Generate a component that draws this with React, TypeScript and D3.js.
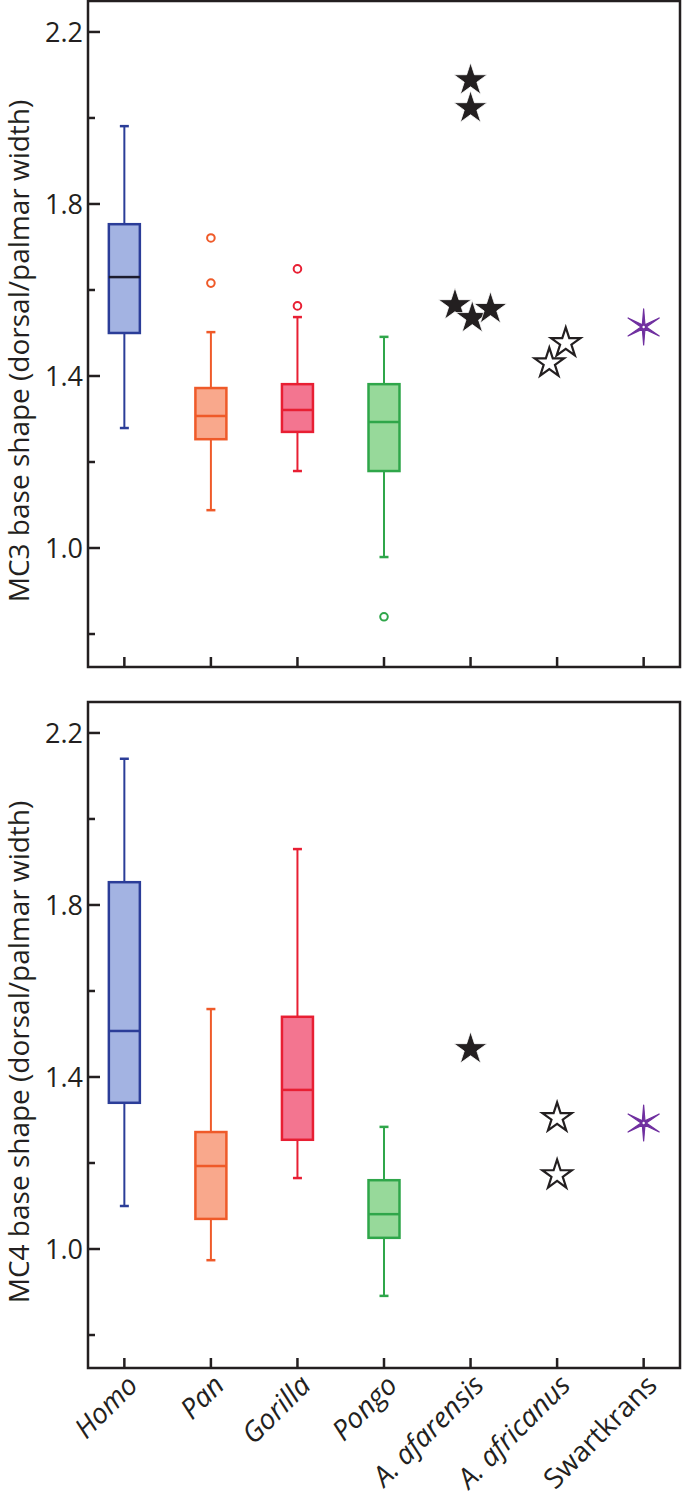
import React, { useRef, useEffect } from 'react';
import * as d3 from 'd3';

const categories = ['Homo', 'Pan', 'Gorilla', 'Pongo', 'A. afarensis', 'A. africanus', 'Swartkrans'];
const italicLabels = ['Homo', 'Pan', 'Gorilla', 'Pongo', 'A. afarensis', 'A. africanus'];
const boxGroups = ['Homo', 'Pan', 'Gorilla', 'Pongo'];
const strokeColors = ['#2b3d98', '#ef5a29', '#e81f33', '#2fa64a'];
const fillColors = ['#a3b3e2', '#f9a88c', '#f37590', '#97d99a'];
const majorTicks = [1.0, 1.4, 1.8, 2.2];
const minorTicks = [0.8, 1.2, 1.6, 2.0];

// [lower whisker, q1, median, q3, upper whisker]
const mc3Boxes = [
  [1.279, 1.5, 1.63, 1.753, 1.981],
  [1.088, 1.253, 1.307, 1.372, 1.502],
  [1.179, 1.27, 1.321, 1.381, 1.537],
  [0.979, 1.179, 1.293, 1.381, 1.491],
];
const mc3Outliers = [[], [1.721, 1.616], [1.649, 1.563], [0.84]];
const mc3Afarensis = [2.088, 2.023, 1.565, 1.535, 1.556];
const mc3AfarensisJitter = [0, 0, -0.18, 0.02, 0.23];
const mc3Africanus = [1.477, 1.43];
const mc3AfricanusJitter = [0.1, -0.09];
const mc3Swartkrans = [1.514];

const mc4Boxes = [
  [1.1, 1.34, 1.507, 1.853, 2.14],
  [0.974, 1.07, 1.193, 1.272, 1.558],
  [1.165, 1.254, 1.37, 1.54, 1.93],
  [0.891, 1.026, 1.081, 1.16, 1.284],
];
const mc4Outliers = [[], [], [], []];
const mc4Afarensis = [1.465];
const mc4AfarensisJitter = [0];
const mc4Africanus = [1.305, 1.172];
const mc4AfricanusJitter = [0, 0];
const mc4Swartkrans = [1.293];

const panels = [
  { title: 'MC3 base shape (dorsal/palmar width)', boxes: mc3Boxes, outliers: mc3Outliers, afar: mc3Afarensis, afarJ: mc3AfarensisJitter, afri: mc3Africanus, afriJ: mc3AfricanusJitter, swk: mc3Swartkrans, medianDark: true },
  { title: 'MC4 base shape (dorsal/palmar width)', boxes: mc4Boxes, outliers: mc4Outliers, afar: mc4Afarensis, afarJ: mc4AfarensisJitter, afri: mc4Africanus, afriJ: mc4AfricanusJitter, swk: mc4Swartkrans, medianDark: false },
];

const FONT = '"Open Sans", "Noto Sans", sans-serif';
const INK = '#231f20';

export default function App() {
  const ref = useRef<SVGSVGElement>(null);

  useEffect(() => {
    const svg = d3.select(ref.current);
    svg.selectAll('*').remove();

    const left = 88;
    const right = 680;
    const panelTops = [1, 702];
    const panelH = 666;

    const x = d3.scalePoint<string>().domain(categories).range([left, right]).padding(0.42);
    const step = x.step();

    const starPath = d3.symbol().type(d3.symbolStar).size(340)();
    const openStarPath = d3.symbol().type(d3.symbolStar).size(270)();
    const asterisk = d3.line().curve(d3.curveLinearClosed)(
      d3.range(12).map((i) => {
        const a = (i * Math.PI) / 6;
        const r = i % 2 === 0 ? 18 : 2.6;
        return [r * Math.sin(a), -r * Math.cos(a)] as [number, number];
      })
    );

    panels.forEach((p, pi) => {
      const top = panelTops[pi];
      const bottom = top + panelH;
      const y = d3.scaleLinear().domain([0.7233, 2.272]).range([bottom, top]);
      const g = svg.append('g');

      // boxes
      p.boxes.forEach((b, i) => {
        const cx = x(boxGroups[i]) as number;
        const bw = 31;
        const cap = 9;
        const sc = strokeColors[i];
        g.append('line').attr('x1', cx).attr('x2', cx).attr('y1', y(b[0])).attr('y2', y(b[1]))
          .attr('stroke', sc).attr('stroke-width', 2);
        g.append('line').attr('x1', cx).attr('x2', cx).attr('y1', y(b[3])).attr('y2', y(b[4]))
          .attr('stroke', sc).attr('stroke-width', 2);
        [b[0], b[4]].forEach((v) => {
          g.append('line').attr('x1', cx - cap / 2).attr('x2', cx + cap / 2).attr('y1', y(v)).attr('y2', y(v))
            .attr('stroke', sc).attr('stroke-width', 2.5);
        });
        g.append('rect').attr('x', cx - bw / 2).attr('width', bw)
          .attr('y', y(b[3])).attr('height', y(b[1]) - y(b[3]))
          .attr('fill', fillColors[i]).attr('stroke', sc).attr('stroke-width', 2.5);
        g.append('line').attr('x1', cx - bw / 2).attr('x2', cx + bw / 2).attr('y1', y(b[2])).attr('y2', y(b[2]))
          .attr('stroke', i === 0 && p.medianDark ? '#1c1c2e' : sc).attr('stroke-width', 2.5);
        p.outliers[i].forEach((v) => {
          g.append('circle').attr('cx', cx).attr('cy', y(v)).attr('r', 3.8)
            .attr('fill', 'white').attr('stroke', sc).attr('stroke-width', 2);
        });
      });

      // A. afarensis (filled stars)
      const xa = x('A. afarensis') as number;
      p.afar.forEach((v, i) => {
        g.append('path').attr('d', starPath)
          .attr('transform', `translate(${xa + p.afarJ[i] * step},${y(v)})`)
          .attr('fill', INK).attr('stroke', 'white').attr('stroke-width', 0.8);
      });

      // A. africanus (open stars)
      const xf = x('A. africanus') as number;
      p.afri.forEach((v, i) => {
        g.append('path').attr('d', openStarPath)
          .attr('transform', `translate(${xf + p.afriJ[i] * step},${y(v)})`)
          .attr('fill', 'white').attr('stroke', INK).attr('stroke-width', 2.2);
      });

      // Swartkrans (asterisk)
      const xs = x('Swartkrans') as number;
      p.swk.forEach((v) => {
        g.append('path').attr('d', asterisk).attr('transform', `translate(${xs},${y(v)})`)
          .attr('fill', '#7030a0').attr('stroke', '#7030a0').attr('stroke-width', 1.2)
          .attr('stroke-linejoin', 'round');
        g.append('circle').attr('cx', xs).attr('cy', y(v)).attr('r', 1.2).attr('fill', 'white');
      });

      // frame
      g.append('rect').attr('x', left).attr('y', top).attr('width', right - left).attr('height', panelH)
        .attr('fill', 'none').attr('stroke', INK).attr('stroke-width', 2.5);

      // y ticks
      majorTicks.forEach((t) => {
        g.append('line').attr('x1', left).attr('x2', left + 12).attr('y1', y(t)).attr('y2', y(t))
          .attr('stroke', INK).attr('stroke-width', 2.5);
        g.append('text').attr('x', left - 5).attr('y', y(t)).attr('dy', '0.36em')
          .attr('text-anchor', 'end').attr('font-family', FONT).attr('font-size', 27)
          .attr('fill', INK).text(d3.format('.1f')(t));
      });
      minorTicks.forEach((t) => {
        g.append('line').attr('x1', left).attr('x2', left + 7).attr('y1', y(t)).attr('y2', y(t))
          .attr('stroke', INK).attr('stroke-width', 2.5);
      });

      // x ticks
      categories.forEach((c) => {
        const cx = x(c) as number;
        g.append('line').attr('x1', cx).attr('x2', cx).attr('y1', bottom).attr('y2', bottom - 10)
          .attr('stroke', INK).attr('stroke-width', 2.5);
      });

      // y title
      g.append('text')
        .attr('transform', `translate(29,${(top + bottom) / 2 + 17}) rotate(-90)`)
        .attr('text-anchor', 'middle').attr('font-family', FONT).attr('font-size', 28)
        .attr('fill', INK).text(p.title);

      // x labels on bottom panel
      if (pi === panels.length - 1) {
        categories.forEach((c) => {
          const cx = x(c) as number;
          g.append('text')
            .attr('transform', `translate(${cx + 15},${bottom + 19}) rotate(-45)`)
            .attr('text-anchor', 'end').attr('font-family', FONT).attr('font-size', 28)
            .attr('font-style', italicLabels.includes(c) ? 'italic' : 'normal')
            .attr('fill', INK).text(c);
        });
      }
    });
  }, []);

  return (
    <svg ref={ref} width={682} height={1500} style={{ position: 'absolute', left: 0, top: 0, background: 'white' }} />
  );
}
